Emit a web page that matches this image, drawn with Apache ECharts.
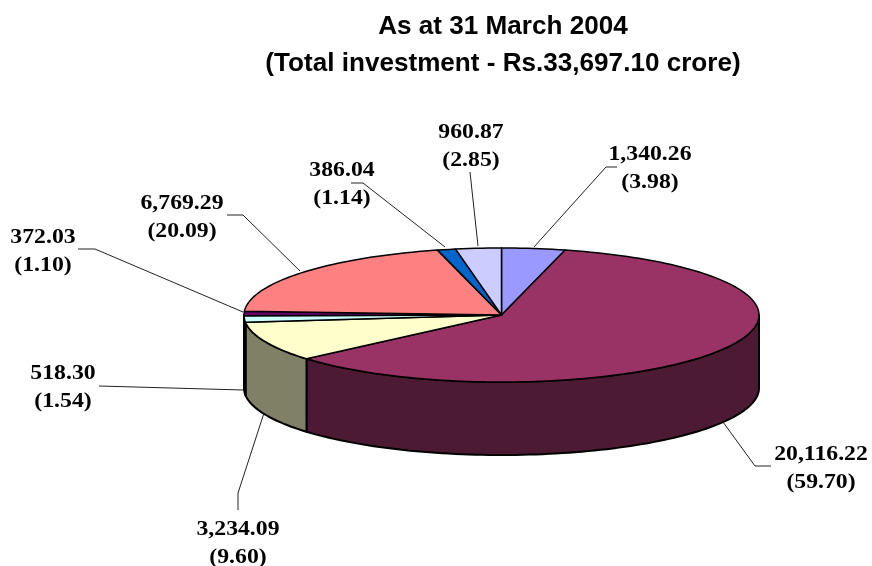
<!DOCTYPE html>
<html>
<head>
<meta charset="utf-8">
<style>html,body{margin:0;padding:0;background:#fff}#c{width:872px;height:566px}</style>
<script src="https://cdn.jsdelivr.net/npm/echarts@6/dist/echarts.min.js"></script>
</head>
<body>
<div id="c"></div>
<script>
// Data, clockwise from 12 o'clock
const amounts = [1340.26, 20116.22, 3234.09, 518.30, 372.03, 6769.29, 386.04, 960.87];
const amountLabels = ['1,340.26', '20,116.22', '3,234.09', '518.30', '372.03', '6,769.29', '386.04', '960.87'];
const percentLabels = ['(3.98)', '(59.70)', '(9.60)', '(1.54)', '(1.10)', '(20.09)', '(1.14)', '(2.85)'];
const topColors = ['#9999FF', '#993366', '#FFFFCC', '#CCFFFF', '#660066', '#FF8080', '#0066CC', '#CCCCFF'];
const wallColors = ['#4D4D80', '#4D1A33', '#808066', '#808066', '#330033', '#804040', '#003366', '#666680'];
const titleLines = ['As at 31 March 2004', '(Total investment - Rs.33,697.10 crore)'];

// Layout only
const pie = { cx: 501.5, cy: 315, rx: 257.5, ry: 67, depth: 73 };
const labelAnchors = [[650, 155], [471, 133], [342, 171], [182, 204], [43, 238], [63, 374], [238, 530], [821, 455]];
const labelOrder = [0, 7, 6, 5, 4, 3, 2, 1];
const leaderPaths = [
  [[534, 247], [606, 167], [617, 167]],
  [[771, 466], [755, 466], [723, 422]],
  [[264, 413], [238, 493], [238, 510]],
  [[243, 390], [99, 386]],
  [[243, 312], [95, 249], [78, 249]],
  [[300, 271], [243, 215], [227, 215]],
  [[445, 247], [363, 183], [351, 183]],
  [[478, 246], [470, 172]]
];

const total = amounts.reduce((a, b) => a + b, 0);
const spans = [];
amounts.reduce((acc, v) => { const next = acc + v / total * 360; spans.push([acc, next]); return next; }, 0);

function rim(deg, dy) {
  const t = deg * Math.PI / 180;
  return [pie.cx + pie.rx * Math.sin(t), pie.cy - pie.ry * Math.cos(t) + (dy || 0)];
}
function arc(a0, a1, dy) {
  const n = Math.max(1, Math.ceil(Math.abs(a1 - a0) / 1.5));
  const pts = [];
  for (let i = 0; i <= n; i++) pts.push(rim(a0 + (a1 - a0) * i / n, dy));
  return pts;
}
const edge = { stroke: '#000', lineWidth: 2, lineJoin: 'round' };
const topEdge = { stroke: '#000', lineWidth: 1.5, lineJoin: 'round' };
const labelFont = 'bold 21px "Liberation Serif"';
const titleFont = 'bold 25px "Liberation Sans"';

const chart = echarts.init(document.getElementById('c'), null, { renderer: 'canvas' });
chart.setOption({
  backgroundColor: '#fff',
  animation: false,
  graphic: titleLines.map((t, i) => ({
    type: 'text', x: 503, y: 27 + i * 37, scaleX: 1.044,
    style: { text: t, font: titleFont, fill: '#000', align: 'center', verticalAlign: 'middle' }
  })),
  series: [
    {
      type: 'custom', coordinateSystem: 'none', silent: true, z: 1,
      data: amounts.map((v, i) => [i, v]),
      renderItem(params, api) {
        const i = api.value(0);
        const a0 = Math.max(spans[i][0], 90), a1 = Math.min(spans[i][1], 270);
        if (a1 <= a0) return { type: 'group', children: [] };
        return {
          type: 'polygon',
          shape: { points: arc(a0, a1, 0).concat(arc(a1, a0, pie.depth)) },
          style: Object.assign({ fill: wallColors[i] }, edge)
        };
      }
    },
    {
      type: 'custom', coordinateSystem: 'none', silent: true, z: 2,
      data: amounts.map((v, i) => [i, v]),
      renderItem(params, api) {
        const i = api.value(0);
        return {
          type: 'polygon',
          shape: { points: [[pie.cx, pie.cy]].concat(arc(spans[i][0], spans[i][1], 0)) },
          style: Object.assign({ fill: topColors[i] }, topEdge)
        };
      }
    },
    {
      type: 'custom', coordinateSystem: 'none', silent: true, z: 3,
      data: amounts.map((v, i) => [i, v]),
      renderItem(params, api) {
        const i = api.value(0);
        const a = labelAnchors[labelOrder.indexOf(i)];
        const text = (s, y) => ({
          type: 'text', x: a[0], y, scaleX: 1.13,
          style: { text: s, font: labelFont, fill: '#000', align: 'center', verticalAlign: 'middle' }
        });
        return {
          type: 'group',
          children: [
            { type: 'polyline', shape: { points: leaderPaths[i] }, style: { stroke: '#222', lineWidth: 1, fill: null } },
            text(amountLabels[i], a[1]),
            text(percentLabels[i], a[1] + 27.5)
          ]
        };
      }
    }
  ]
});
</script>
</body>
</html>
